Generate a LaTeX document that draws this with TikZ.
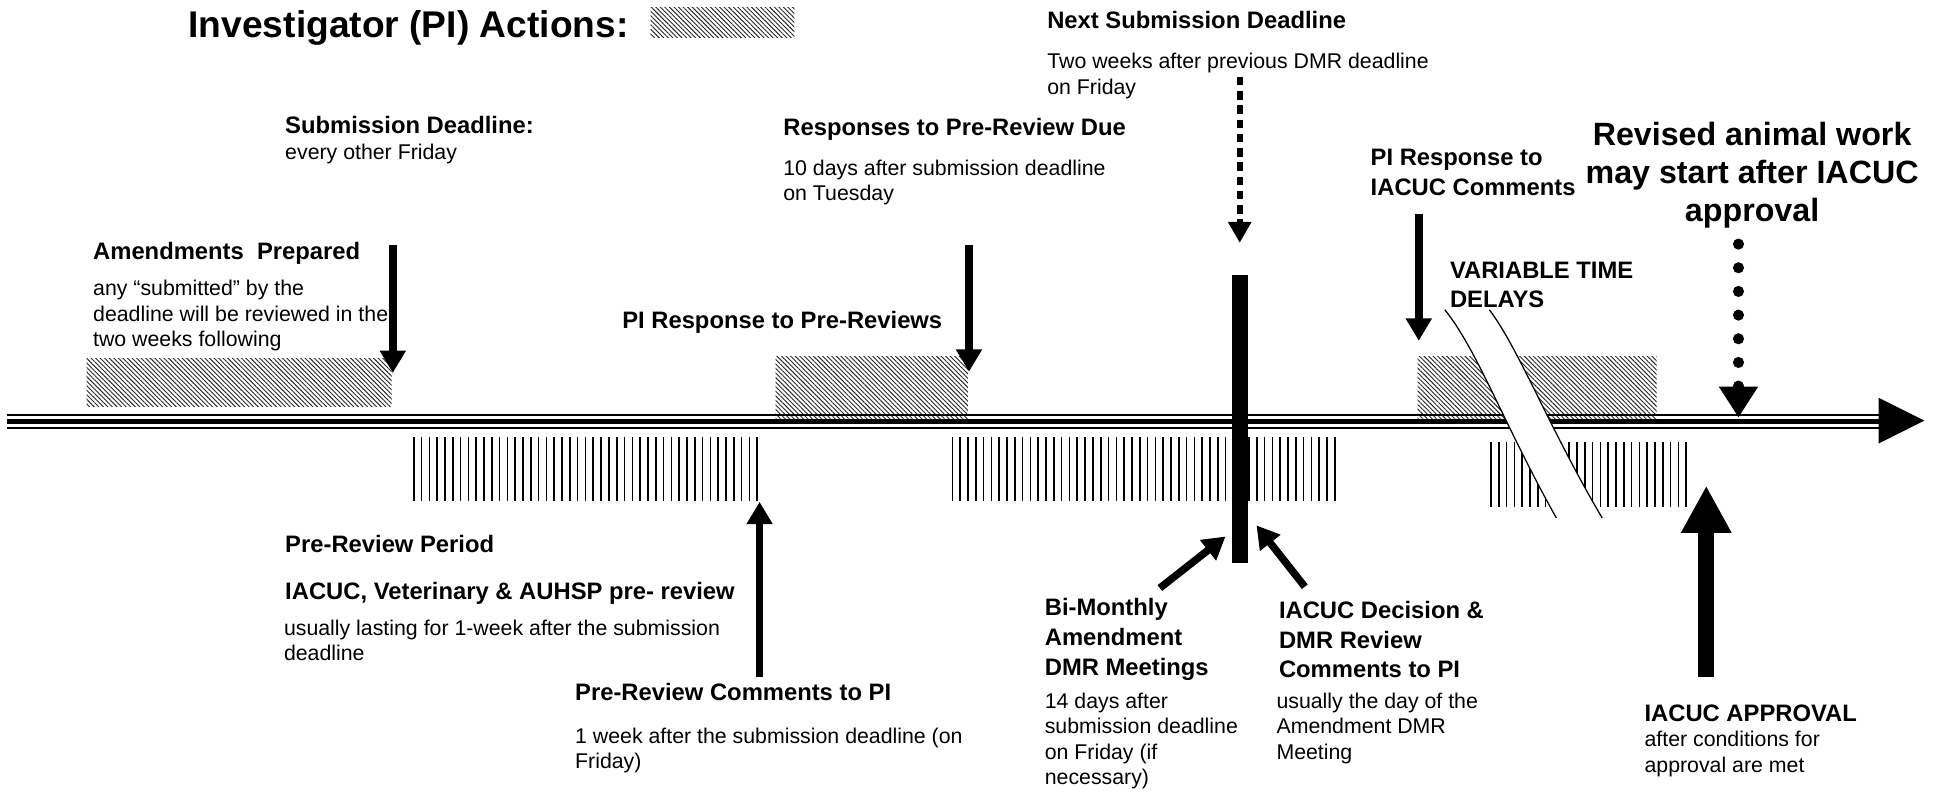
\documentclass[tikz,border=0pt]{standalone}
\usepackage{fontspec}
\setmainfont{Liberation Sans}
\usetikzlibrary{arrows.meta,patterns.meta}
\begin{document}
\begin{tikzpicture}[x=1pt,y=-1pt,
  txt/.style={font=\fontsize{17.2}{20.5}\selectfont, align=left, anchor=north west, inner sep=0pt},
  hd/.style={font=\fontsize{19.2}{24}\selectfont\bfseries, align=left, anchor=north west, inner sep=0pt},
  pihatch/.style={pattern={Lines[angle=-45,distance=2.6pt,line width=0.75pt]}, pattern color=black!85},
  iachatch/.style={pattern={Lines[angle=90,distance=6.3pt,line width=1.3pt]}},
  arr/.style={line width=6pt, -{Triangle[length=18pt,width=20pt]}},
  bigarr/.style={line width=13pt, -{Triangle[length=38pt,width=38pt]}},
  dasharr/.style={line width=5pt, dash pattern=on 7pt off 4.5pt, -{Triangle[length=17pt,width=18pt]}},
  dotarr/.style={line width=9pt, line cap=round, dash pattern=on 0pt off 19.1pt, -{Triangle[length=25pt,width=30pt]}},
  thinrule/.style={line width=1.9pt},
  thickrule/.style={line width=4pt}
]
\useasboundingbox (0,0) rectangle (1560,638.4);

% PI action hatched boxes
\fill[pihatch] (525,6) rectangle (641,30);
\fill[pihatch] (70,289) rectangle (316,328);
\fill[pihatch] (626,288) rectangle (781,340);
\fill[pihatch] (1144,288) rectangle (1337,340);

% IACUC vertical-line boxes
\fill[iachatch] (331,353) rectangle (613,404);
\fill[iachatch] (763,353) rectangle (1078,404);
\fill[iachatch] (1198,357) rectangle (1366,409);

% timeline
\draw[thinrule] (6,335) -- (1518,335);
\draw[thickrule] (6,340.2) -- (1518,340.2);
\draw[thinrule] (6,345.4) -- (1518,345.4);
\fill (1516,321) -- (1553,339.5) -- (1516,358) -- cycle;

% meeting bar
\node[fill=black, minimum width=13pt, minimum height=232pt, inner sep=0pt] (bar) at (1000.5,338) {};

% variable time delay break
\fill[white] (1166,250) .. controls (1192,282) and (1215,345) .. (1256,418)
  -- (1293,418) .. controls (1250,345) and (1226,282) .. (1202,250) -- cycle;
\draw[line width=1pt] (1166,250) .. controls (1192,282) and (1215,345) .. (1256,418);
\draw[line width=1pt] (1202,250) .. controls (1226,282) and (1250,345) .. (1293,418);

% texts
\node[anchor=north west, inner sep=0pt, font=\fontsize{30}{36}\selectfont\bfseries] (title) at (152,8) {Investigator (PI) Actions:};
\node[hd] (ns) at (845,9) {Next Submission Deadline};
\node[txt] (nsd) at (845,43) {Two weeks after previous DMR deadline\\on Friday};
\node[hd] (sd) at (230,94) {Submission Deadline:};
\node[txt] (sdd) at (230,116) {every other Friday};
\node[hd] (rd) at (632,95) {Responses to Pre-Review Due};
\node[txt] (rdd) at (632,129) {10 days after submission deadline\\on Tuesday};
\node[anchor=north, inner sep=0pt, align=center, font=\fontsize{26}{31}\selectfont\bfseries] (rev) at (1414,98) {Revised animal work\\may start after IACUC\\approval};
\node[hd] (pir) at (1106,120) {PI Response to\\IACUC Comments};
\node[hd] (am) at (75,195) {Amendments~~Prepared};
\node[txt] (amd) at (75,226) {any “submitted” by the\\deadline will be reviewed in the\\two weeks following};
\node[hd] (pip) at (502,251) {PI Response to Pre-Reviews};
\node[hd] (var) at (1170,211) {VARIABLE TIME\\DELAYS};
\node[hd] (prp) at (230,432) {Pre-Review Period};
\node[hd] (iac) at (230,470) {IACUC, Veterinary \& AUHSP pre- review};
\node[txt] (usl) at (229,500) {usually lasting for 1-week after the submission\\deadline};
\node[hd] (prc) at (464,551) {Pre-Review Comments to PI};
\node[txt] (prcd) at (464,587) {1 week after the submission deadline (on\\Friday)};
\node[hd] (bim) at (843,483) {Bi-Monthly\\Amendment\\DMR Meetings};
\node[txt] (bimd) at (843,559) {14 days after\\submission deadline\\on Friday (if\\necessary)};
\node[hd] (dec) at (1032,485) {IACUC Decision \&\\DMR Review\\Comments to PI};
\node[txt] (decd) at (1030,559) {usually the day of the\\Amendment DMR\\Meeting};
\node[hd] (app) at (1327,569) {IACUC APPROVAL};
\node[txt] (appd) at (1327,590) {after conditions for\\approval are met};

% arrow end points
\coordinate (sdA) at (317,198);   \coordinate (sdB) at (317,301);
\coordinate (rdA) at (782,198);   \coordinate (rdB) at (782,300);
\coordinate (pirA) at (1145,173); \coordinate (pirB) at (1145,275);
\coordinate (prcA) at (613,546);  \coordinate (prcB) at (613,405);
\coordinate (appA) at (1377,546); \coordinate (appB) at (1377,392);
\coordinate (bimA) at (936,474.6); \coordinate (bimB) at (989,433);
\coordinate (decA) at (1053,473.5); \coordinate (decB) at (1014,424);
\coordinate (nsA) at (1000.5,62); \coordinate (nsB) at (1000.5,196);
\coordinate (revA) at (1403,197); \coordinate (revB) at (1403,337);

% arrows
\draw[arr] (sdA) -- (sdB);
\draw[arr] (rdA) -- (rdB);
\draw[arr] (pirA) -- (pirB);
\draw[arr] (prcA) -- (prcB);
\draw[bigarr] (appA) -- (appB);
\draw[arr] (bimA) -- (bimB);
\draw[arr] (decA) -- (decB);
\draw[dasharr] (nsA) -- (nsB);
\draw[dotarr] (revA) -- (revB);
\end{tikzpicture}
\end{document}
